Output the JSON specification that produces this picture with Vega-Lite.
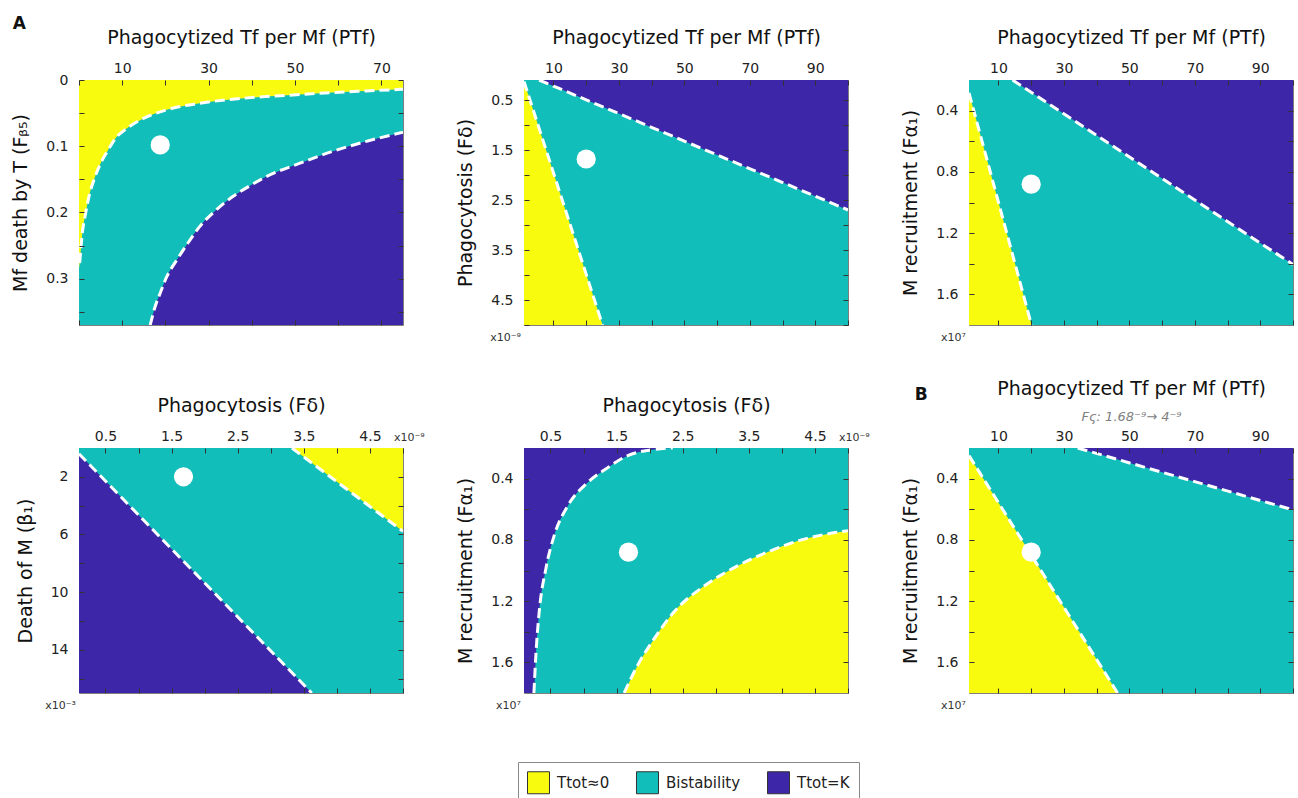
{
  "$schema": "https://vega.github.io/schema/vega-lite/v6.json",
  "background": "white",
  "padding": {"left": 11, "right": 0, "top": 14, "bottom": 0},
  "columns": 3,
  "spacing": {"row": 123, "column": 121},
  "bounds": "flush",
  "resolve": {"scale": {"x": "independent", "y": "independent", "color": "shared"}},
  "config": {
    "font": "DejaVu Sans",
    "view": {"stroke": "#7f7f7f", "strokeWidth": 1},
    "axis": {"labelFont": "DejaVu Sans", "titleFont": "DejaVu Sans", "labelFontSize": 14, "titleFontSize": 19, "titleFontWeight": "normal", "labelColor": "#222222", "titleColor": "#111111", "domain": false, "grid": false, "tickColor": "#333333", "tickSize": -5, "tickWidth": 1, "labelFlush": false, "labelOverlap": false, "zindex": 1},
    "axisTop": {"labelPadding": 10, "titlePadding": 14},
    "axisLeft": {"labelPadding": 16, "titlePadding": 15},
    "title": {"font": "DejaVu Sans"}
  },
  "concat": [
    {
      "width": 324, "height": 245,
      "title": {"text": "A", "anchor": "start", "frame": "bounds", "fontSize": 17, "fontWeight": "bold", "color": "#111111", "dx": 1, "dy": 9},
      "layer": [
        {"data": {"values": [{"region": "Bistability"}]}, "mark": {"type": "rect"},
         "encoding": {"x": {"datum": 0, "type": "quantitative", "scale": {"domain": [0, 75], "nice": false, "zero": false}, "axis": null}, "x2": {"datum": 75}, "y": {"datum": 0, "type": "quantitative", "scale": {"domain": [0, 0.37], "nice": false, "zero": false, "reverse": true}, "axis": null}, "y2": {"datum": 0.37},
          "color": {"field": "region", "type": "nominal", "scale": {"domain": ["Ttot≈0", "Bistability", "Ttot=K"], "range": ["#F9FB0E", "#12BEB9", "#3E26A8"]}, "legend": {"title": null, "orient": "none", "legendX": 439, "legendY": 682, "direction": "horizontal", "symbolType": "square", "symbolSize": 484, "symbolStrokeColor": "#333333", "symbolStrokeWidth": 1, "symbolOpacity": 1, "labelFontSize": 15, "labelFont": "DejaVu Sans", "labelColor": "#222222", "strokeColor": "#888888", "fillColor": "white", "padding": 9, "columnPadding": 24, "labelOffset": 7}}}},
        {"data": {"values": [
          {"region": "Ttot≈0", "x": 0, "y": 0.285}, {"region": "Ttot≈0", "x": 0.16, "y": 0.2765}, {"region": "Ttot≈0", "x": 0.77, "y": 0.231}, {"region": "Ttot≈0", "x": 1.54, "y": 0.201}, {"region": "Ttot≈0", "x": 2.3, "y": 0.176}, {"region": "Ttot≈0", "x": 3.45, "y": 0.151}, {"region": "Ttot≈0", "x": 4.99, "y": 0.126}, {"region": "Ttot≈0", "x": 6.53, "y": 0.108}, {"region": "Ttot≈0", "x": 8.44, "y": 0.088}, {"region": "Ttot≈0", "x": 11.1, "y": 0.073}, {"region": "Ttot≈0", "x": 14.9, "y": 0.058}, {"region": "Ttot≈0", "x": 20.3, "y": 0.045}, {"region": "Ttot≈0", "x": 28, "y": 0.035}, {"region": "Ttot≈0", "x": 35.6, "y": 0.029}, {"region": "Ttot≈0", "x": 43.3, "y": 0.025}, {"region": "Ttot≈0", "x": 51, "y": 0.022}, {"region": "Ttot≈0", "x": 58.6, "y": 0.019}, {"region": "Ttot≈0", "x": 66.3, "y": 0.0166}, {"region": "Ttot≈0", "x": 75, "y": 0.014}]},
         "mark": {"type": "area", "interpolate": "monotone", "clip": true, "opacity": 1},
         "encoding": {"x": {"field": "x", "type": "quantitative", "scale": {"domain": [0, 75], "nice": false, "zero": false}, "axis": {"orient": "top", "zindex": 1, "title": "Phagocytized Tf per Mf (PTf)", "values": [0, 10, 20, 30, 40, 50, 60, 70], "labelExpr": "datum.value % 20 == 10 ? datum.label : ''", "format": "~r"}},
          "y": {"field": "y", "type": "quantitative", "scale": {"domain": [0, 0.37], "nice": false, "zero": false, "reverse": true}, "axis": {"orient": "left", "zindex": 1, "title": "Mf death by T (Fᵦ₅)", "values": [0, 0.05, 0.1, 0.15, 0.2, 0.25, 0.3, 0.35], "labelExpr": "round(datum.value*100) % 10 == 0 ? datum.label : ''", "format": "~r"}},
          "y2": {"datum": 0},
          "color": {"field": "region", "type": "nominal", "scale": {"domain": ["Ttot≈0", "Bistability", "Ttot=K"], "range": ["#F9FB0E", "#12BEB9", "#3E26A8"]}, "legend": {"title": null, "orient": "none", "legendX": 439, "legendY": 682, "direction": "horizontal", "symbolType": "square", "symbolSize": 484, "symbolStrokeColor": "#333333", "symbolStrokeWidth": 1, "symbolOpacity": 1, "labelFontSize": 15, "labelFont": "DejaVu Sans", "labelColor": "#222222", "strokeColor": "#888888", "fillColor": "white", "padding": 9, "columnPadding": 24, "labelOffset": 7}}}},
        {"data": {"values": [
          {"region": "Ttot=K", "x": 16.48, "y": 0.37}, {"region": "Ttot=K", "x": 17.63, "y": 0.342}, {"region": "Ttot=K", "x": 18.78, "y": 0.322}, {"region": "Ttot=K", "x": 20.32, "y": 0.297}, {"region": "Ttot=K", "x": 22.62, "y": 0.272}, {"region": "Ttot=K", "x": 24.92, "y": 0.249}, {"region": "Ttot=K", "x": 27.98, "y": 0.221}, {"region": "Ttot=K", "x": 31.8, "y": 0.196}, {"region": "Ttot=K", "x": 35.6, "y": 0.176}, {"region": "Ttot=K", "x": 39.5, "y": 0.16}, {"region": "Ttot=K", "x": 43.3, "y": 0.146}, {"region": "Ttot=K", "x": 51, "y": 0.126}, {"region": "Ttot=K", "x": 58.6, "y": 0.108}, {"region": "Ttot=K", "x": 66.3, "y": 0.093}, {"region": "Ttot=K", "x": 75, "y": 0.079}]},
         "mark": {"type": "area", "interpolate": "monotone", "clip": true, "opacity": 1},
         "encoding": {"x": {"field": "x", "type": "quantitative", "scale": {"domain": [0, 75], "nice": false, "zero": false}, "axis": {"orient": "bottom", "zindex": 1, "title": null, "labels": false, "values": [0, 10, 20, 30, 40, 50, 60, 70]}},
          "y": {"field": "y", "type": "quantitative", "scale": {"domain": [0, 0.37], "nice": false, "zero": false, "reverse": true}, "axis": {"orient": "right", "zindex": 1, "title": null, "labels": false, "values": [0, 0.05, 0.1, 0.15, 0.2, 0.25, 0.3, 0.35]}},
          "y2": {"datum": 0.37},
          "color": {"field": "region", "type": "nominal", "scale": {"domain": ["Ttot≈0", "Bistability", "Ttot=K"], "range": ["#F9FB0E", "#12BEB9", "#3E26A8"]}, "legend": {"title": null, "orient": "none", "legendX": 439, "legendY": 682, "direction": "horizontal", "symbolType": "square", "symbolSize": 484, "symbolStrokeColor": "#333333", "symbolStrokeWidth": 1, "symbolOpacity": 1, "labelFontSize": 15, "labelFont": "DejaVu Sans", "labelColor": "#222222", "strokeColor": "#888888", "fillColor": "white", "padding": 9, "columnPadding": 24, "labelOffset": 7}}}},
        {"data": {"values": [
          {"b": "low", "x": 0.16, "y": 0.2765}, {"b": "low", "x": 0.77, "y": 0.231}, {"b": "low", "x": 1.54, "y": 0.201}, {"b": "low", "x": 2.3, "y": 0.176}, {"b": "low", "x": 3.45, "y": 0.151}, {"b": "low", "x": 4.99, "y": 0.126}, {"b": "low", "x": 6.53, "y": 0.108}, {"b": "low", "x": 8.44, "y": 0.088}, {"b": "low", "x": 11.1, "y": 0.073}, {"b": "low", "x": 14.9, "y": 0.058}, {"b": "low", "x": 20.3, "y": 0.045}, {"b": "low", "x": 28, "y": 0.035}, {"b": "low", "x": 35.6, "y": 0.029}, {"b": "low", "x": 43.3, "y": 0.025}, {"b": "low", "x": 51, "y": 0.022}, {"b": "low", "x": 58.6, "y": 0.019}, {"b": "low", "x": 66.3, "y": 0.0166}, {"b": "low", "x": 75, "y": 0.014},
          {"b": "high", "x": 16.48, "y": 0.37}, {"b": "high", "x": 17.63, "y": 0.342}, {"b": "high", "x": 18.78, "y": 0.322}, {"b": "high", "x": 20.32, "y": 0.297}, {"b": "high", "x": 22.62, "y": 0.272}, {"b": "high", "x": 24.92, "y": 0.249}, {"b": "high", "x": 27.98, "y": 0.221}, {"b": "high", "x": 31.8, "y": 0.196}, {"b": "high", "x": 35.6, "y": 0.176}, {"b": "high", "x": 39.5, "y": 0.16}, {"b": "high", "x": 43.3, "y": 0.146}, {"b": "high", "x": 51, "y": 0.126}, {"b": "high", "x": 58.6, "y": 0.108}, {"b": "high", "x": 66.3, "y": 0.093}, {"b": "high", "x": 75, "y": 0.079}]},
         "mark": {"type": "line", "color": "white", "strokeWidth": 3, "strokeDash": [10, 5], "interpolate": "monotone", "clip": true},
         "encoding": {"x": {"field": "x", "type": "quantitative", "axis": null}, "y": {"field": "y", "type": "quantitative", "axis": null}, "detail": {"field": "b"}}},
        {"data": {"values": [{"x": 18.8, "y": 0.098}]},
         "mark": {"type": "circle", "color": "white", "size": 370, "opacity": 1},
         "encoding": {"x": {"field": "x", "type": "quantitative", "axis": null}, "y": {"field": "y", "type": "quantitative", "axis": null}}}
      ],
      "resolve": {"axis": {"x": "independent", "y": "independent"}}
    },
    {
      "width": 324, "height": 245,
      "layer": [
        {"data": {"values": [{"region": "Bistability"}]}, "mark": {"type": "rect"},
         "encoding": {"x": {"datum": 1, "type": "quantitative", "scale": {"domain": [1, 100], "nice": false, "zero": false}, "axis": null}, "x2": {"datum": 100}, "y": {"datum": 0.1, "type": "quantitative", "scale": {"domain": [0.1, 5], "nice": false, "zero": false, "reverse": true}, "axis": null}, "y2": {"datum": 5},
          "color": {"field": "region", "type": "nominal", "scale": {"domain": ["Ttot≈0", "Bistability", "Ttot=K"], "range": ["#F9FB0E", "#12BEB9", "#3E26A8"]}, "legend": {"title": null, "orient": "none", "legendX": 439, "legendY": 682, "direction": "horizontal", "symbolType": "square", "symbolSize": 484, "symbolStrokeColor": "#333333", "symbolStrokeWidth": 1, "symbolOpacity": 1, "labelFontSize": 15, "labelFont": "DejaVu Sans", "labelColor": "#222222", "strokeColor": "#888888", "fillColor": "white", "padding": 9, "columnPadding": 24, "labelOffset": 7}}}},
        {"data": {"values": [{"region": "Ttot≈0", "x": 1, "y": 0.13}, {"region": "Ttot≈0", "x": 25, "y": 5}]},
         "mark": {"type": "area", "clip": true, "opacity": 1},
         "encoding": {"x": {"field": "x", "type": "quantitative", "scale": {"domain": [1, 100], "nice": false, "zero": false}, "axis": {"orient": "top", "zindex": 1, "title": "Phagocytized Tf per Mf (PTf)", "values": [10, 20, 30, 40, 50, 60, 70, 80, 90, 100], "labelExpr": "datum.value % 20 == 10 ? datum.label : ''", "format": "~r"}},
          "y": {"field": "y", "type": "quantitative", "scale": {"domain": [0.1, 5], "nice": false, "zero": false, "reverse": true}, "axis": {"orient": "left", "zindex": 1, "title": "Phagocytosis (Fδ)", "values": [0.5, 1, 1.5, 2, 2.5, 3, 3.5, 4, 4.5, 5], "labelExpr": "round(datum.value*10) % 10 == 5 ? datum.label : ''", "format": "~r"}},
          "y2": {"datum": 5},
          "color": {"field": "region", "type": "nominal", "scale": {"domain": ["Ttot≈0", "Bistability", "Ttot=K"], "range": ["#F9FB0E", "#12BEB9", "#3E26A8"]}, "legend": {"title": null, "orient": "none", "legendX": 439, "legendY": 682, "direction": "horizontal", "symbolType": "square", "symbolSize": 484, "symbolStrokeColor": "#333333", "symbolStrokeWidth": 1, "symbolOpacity": 1, "labelFontSize": 15, "labelFont": "DejaVu Sans", "labelColor": "#222222", "strokeColor": "#888888", "fillColor": "white", "padding": 9, "columnPadding": 24, "labelOffset": 7}}}},
        {"data": {"values": [{"region": "Ttot=K", "x": 5.6, "y": 0.1}, {"region": "Ttot=K", "x": 100, "y": 2.7}]},
         "mark": {"type": "area", "clip": true, "opacity": 1},
         "encoding": {"x": {"field": "x", "type": "quantitative", "scale": {"domain": [1, 100], "nice": false, "zero": false}, "axis": {"orient": "bottom", "zindex": 1, "title": null, "labels": false, "values": [10, 20, 30, 40, 50, 60, 70, 80, 90, 100]}},
          "y": {"field": "y", "type": "quantitative", "scale": {"domain": [0.1, 5], "nice": false, "zero": false, "reverse": true}, "axis": {"orient": "right", "zindex": 1, "title": null, "labels": false, "values": [0.5, 1, 1.5, 2, 2.5, 3, 3.5, 4, 4.5, 5]}},
          "y2": {"datum": 0.1},
          "color": {"field": "region", "type": "nominal", "scale": {"domain": ["Ttot≈0", "Bistability", "Ttot=K"], "range": ["#F9FB0E", "#12BEB9", "#3E26A8"]}, "legend": {"title": null, "orient": "none", "legendX": 439, "legendY": 682, "direction": "horizontal", "symbolType": "square", "symbolSize": 484, "symbolStrokeColor": "#333333", "symbolStrokeWidth": 1, "symbolOpacity": 1, "labelFontSize": 15, "labelFont": "DejaVu Sans", "labelColor": "#222222", "strokeColor": "#888888", "fillColor": "white", "padding": 9, "columnPadding": 24, "labelOffset": 7}}}},
        {"data": {"values": [{"b": "low", "x": 1, "y": 0.13}, {"b": "low", "x": 25, "y": 5}, {"b": "high", "x": 5.6, "y": 0.1}, {"b": "high", "x": 100, "y": 2.7}]},
         "mark": {"type": "line", "color": "white", "strokeWidth": 3, "strokeDash": [10, 5], "clip": true},
         "encoding": {"x": {"field": "x", "type": "quantitative", "axis": null}, "y": {"field": "y", "type": "quantitative", "axis": null}, "detail": {"field": "b"}}},
        {"data": {"values": [{"x": 20, "y": 1.68}]},
         "mark": {"type": "circle", "color": "white", "size": 370, "opacity": 1},
         "encoding": {"x": {"field": "x", "type": "quantitative", "axis": null}, "y": {"field": "y", "type": "quantitative", "axis": null}}},
        {"data": {"values": [{"label": "x10⁻⁹"}]},
         "mark": {"type": "text", "align": "right", "baseline": "top", "dx": -3, "dy": 7, "fontSize": 11, "color": "#333333"},
         "encoding": {"x": {"datum": 1, "type": "quantitative", "axis": null}, "y": {"datum": 5, "type": "quantitative", "axis": null}, "text": {"field": "label"}}}
      ],
      "resolve": {"axis": {"x": "independent", "y": "independent"}}
    },
    {
      "width": 324, "height": 245,
      "layer": [
        {"data": {"values": [{"region": "Bistability"}]}, "mark": {"type": "rect"},
         "encoding": {"x": {"datum": 1, "type": "quantitative", "scale": {"domain": [1, 100], "nice": false, "zero": false}, "axis": null}, "x2": {"datum": 100}, "y": {"datum": 0.2, "type": "quantitative", "scale": {"domain": [0.2, 1.8], "nice": false, "zero": false, "reverse": true}, "axis": null}, "y2": {"datum": 1.8},
          "color": {"field": "region", "type": "nominal", "scale": {"domain": ["Ttot≈0", "Bistability", "Ttot=K"], "range": ["#F9FB0E", "#12BEB9", "#3E26A8"]}, "legend": {"title": null, "orient": "none", "legendX": 439, "legendY": 682, "direction": "horizontal", "symbolType": "square", "symbolSize": 484, "symbolStrokeColor": "#333333", "symbolStrokeWidth": 1, "symbolOpacity": 1, "labelFontSize": 15, "labelFont": "DejaVu Sans", "labelColor": "#222222", "strokeColor": "#888888", "fillColor": "white", "padding": 9, "columnPadding": 24, "labelOffset": 7}}}},
        {"data": {"values": [{"region": "Ttot≈0", "x": 1, "y": 0.284}, {"region": "Ttot≈0", "x": 20.1, "y": 1.8}]},
         "mark": {"type": "area", "clip": true, "opacity": 1},
         "encoding": {"x": {"field": "x", "type": "quantitative", "scale": {"domain": [1, 100], "nice": false, "zero": false}, "axis": {"orient": "top", "zindex": 1, "title": "Phagocytized Tf per Mf (PTf)", "values": [10, 20, 30, 40, 50, 60, 70, 80, 90, 100], "labelExpr": "datum.value % 20 == 10 ? datum.label : ''", "format": "~r"}},
          "y": {"field": "y", "type": "quantitative", "scale": {"domain": [0.2, 1.8], "nice": false, "zero": false, "reverse": true}, "axis": {"orient": "left", "zindex": 1, "title": "M recruitment (Fα₁)", "values": [0.4, 0.6, 0.8, 1.0, 1.2, 1.4, 1.6], "labelExpr": "round(datum.value*10) % 4 == 0 ? datum.label : ''", "format": "~r"}},
          "y2": {"datum": 1.8},
          "color": {"field": "region", "type": "nominal", "scale": {"domain": ["Ttot≈0", "Bistability", "Ttot=K"], "range": ["#F9FB0E", "#12BEB9", "#3E26A8"]}, "legend": {"title": null, "orient": "none", "legendX": 439, "legendY": 682, "direction": "horizontal", "symbolType": "square", "symbolSize": 484, "symbolStrokeColor": "#333333", "symbolStrokeWidth": 1, "symbolOpacity": 1, "labelFontSize": 15, "labelFont": "DejaVu Sans", "labelColor": "#222222", "strokeColor": "#888888", "fillColor": "white", "padding": 9, "columnPadding": 24, "labelOffset": 7}}}},
        {"data": {"values": [{"region": "Ttot=K", "x": 14.3, "y": 0.2}, {"region": "Ttot=K", "x": 100, "y": 1.405}]},
         "mark": {"type": "area", "clip": true, "opacity": 1},
         "encoding": {"x": {"field": "x", "type": "quantitative", "scale": {"domain": [1, 100], "nice": false, "zero": false}, "axis": {"orient": "bottom", "zindex": 1, "title": null, "labels": false, "values": [10, 20, 30, 40, 50, 60, 70, 80, 90, 100]}},
          "y": {"field": "y", "type": "quantitative", "scale": {"domain": [0.2, 1.8], "nice": false, "zero": false, "reverse": true}, "axis": {"orient": "right", "zindex": 1, "title": null, "labels": false, "values": [0.4, 0.6, 0.8, 1.0, 1.2, 1.4, 1.6]}},
          "y2": {"datum": 0.2},
          "color": {"field": "region", "type": "nominal", "scale": {"domain": ["Ttot≈0", "Bistability", "Ttot=K"], "range": ["#F9FB0E", "#12BEB9", "#3E26A8"]}, "legend": {"title": null, "orient": "none", "legendX": 439, "legendY": 682, "direction": "horizontal", "symbolType": "square", "symbolSize": 484, "symbolStrokeColor": "#333333", "symbolStrokeWidth": 1, "symbolOpacity": 1, "labelFontSize": 15, "labelFont": "DejaVu Sans", "labelColor": "#222222", "strokeColor": "#888888", "fillColor": "white", "padding": 9, "columnPadding": 24, "labelOffset": 7}}}},
        {"data": {"values": [{"b": "low", "x": 1, "y": 0.284}, {"b": "low", "x": 20.1, "y": 1.8}, {"b": "high", "x": 14.3, "y": 0.2}, {"b": "high", "x": 100, "y": 1.405}]},
         "mark": {"type": "line", "color": "white", "strokeWidth": 3, "strokeDash": [10, 5], "clip": true},
         "encoding": {"x": {"field": "x", "type": "quantitative", "axis": null}, "y": {"field": "y", "type": "quantitative", "axis": null}, "detail": {"field": "b"}}},
        {"data": {"values": [{"x": 20, "y": 0.88}]},
         "mark": {"type": "circle", "color": "white", "size": 370, "opacity": 1},
         "encoding": {"x": {"field": "x", "type": "quantitative", "axis": null}, "y": {"field": "y", "type": "quantitative", "axis": null}}},
        {"data": {"values": [{"label": "x10⁷"}]},
         "mark": {"type": "text", "align": "right", "baseline": "top", "dx": -3, "dy": 7, "fontSize": 11, "color": "#333333"},
         "encoding": {"x": {"datum": 1, "type": "quantitative", "axis": null}, "y": {"datum": 1.8, "type": "quantitative", "axis": null}, "text": {"field": "label"}}}
      ],
      "resolve": {"axis": {"x": "independent", "y": "independent"}}
    },
    {
      "width": 324, "height": 245,
      "layer": [
        {"data": {"values": [{"region": "Bistability"}]}, "mark": {"type": "rect"},
         "encoding": {"x": {"datum": 0.1, "type": "quantitative", "scale": {"domain": [0.1, 5], "nice": false, "zero": false}, "axis": null}, "x2": {"datum": 5}, "y": {"datum": 0, "type": "quantitative", "scale": {"domain": [0, 17], "nice": false, "zero": false, "reverse": true}, "axis": null}, "y2": {"datum": 17},
          "color": {"field": "region", "type": "nominal", "scale": {"domain": ["Ttot≈0", "Bistability", "Ttot=K"], "range": ["#F9FB0E", "#12BEB9", "#3E26A8"]}, "legend": {"title": null, "orient": "none", "legendX": 439, "legendY": 682, "direction": "horizontal", "symbolType": "square", "symbolSize": 484, "symbolStrokeColor": "#333333", "symbolStrokeWidth": 1, "symbolOpacity": 1, "labelFontSize": 15, "labelFont": "DejaVu Sans", "labelColor": "#222222", "strokeColor": "#888888", "fillColor": "white", "padding": 9, "columnPadding": 24, "labelOffset": 7}}}},
        {"data": {"values": [{"region": "Ttot≈0", "x": 3.32, "y": 0}, {"region": "Ttot≈0", "x": 5, "y": 5.78}]},
         "mark": {"type": "area", "clip": true, "opacity": 1},
         "encoding": {"x": {"field": "x", "type": "quantitative", "scale": {"domain": [0.1, 5], "nice": false, "zero": false}, "axis": {"orient": "top", "zindex": 1, "title": "Phagocytosis (Fδ)", "values": [0.5, 1, 1.5, 2, 2.5, 3, 3.5, 4, 4.5, 5], "labelExpr": "round(datum.value*10) % 10 == 5 ? datum.label : ''", "format": "~r"}},
          "y": {"field": "y", "type": "quantitative", "scale": {"domain": [0, 17], "nice": false, "zero": false, "reverse": true}, "axis": {"orient": "left", "zindex": 1, "title": "Death of M (β₁)", "values": [2, 4, 6, 8, 10, 12, 14, 16], "labelExpr": "datum.value % 4 == 2 ? datum.label : ''", "format": "~r"}},
          "y2": {"datum": 0},
          "color": {"field": "region", "type": "nominal", "scale": {"domain": ["Ttot≈0", "Bistability", "Ttot=K"], "range": ["#F9FB0E", "#12BEB9", "#3E26A8"]}, "legend": {"title": null, "orient": "none", "legendX": 439, "legendY": 682, "direction": "horizontal", "symbolType": "square", "symbolSize": 484, "symbolStrokeColor": "#333333", "symbolStrokeWidth": 1, "symbolOpacity": 1, "labelFontSize": 15, "labelFont": "DejaVu Sans", "labelColor": "#222222", "strokeColor": "#888888", "fillColor": "white", "padding": 9, "columnPadding": 24, "labelOffset": 7}}}},
        {"data": {"values": [{"region": "Ttot=K", "x": 0.1, "y": 0.4}, {"region": "Ttot=K", "x": 3.62, "y": 17}]},
         "mark": {"type": "area", "clip": true, "opacity": 1},
         "encoding": {"x": {"field": "x", "type": "quantitative", "scale": {"domain": [0.1, 5], "nice": false, "zero": false}, "axis": {"orient": "bottom", "zindex": 1, "title": null, "labels": false, "values": [0.5, 1, 1.5, 2, 2.5, 3, 3.5, 4, 4.5, 5]}},
          "y": {"field": "y", "type": "quantitative", "scale": {"domain": [0, 17], "nice": false, "zero": false, "reverse": true}, "axis": {"orient": "right", "zindex": 1, "title": null, "labels": false, "values": [2, 4, 6, 8, 10, 12, 14, 16]}},
          "y2": {"datum": 17},
          "color": {"field": "region", "type": "nominal", "scale": {"domain": ["Ttot≈0", "Bistability", "Ttot=K"], "range": ["#F9FB0E", "#12BEB9", "#3E26A8"]}, "legend": {"title": null, "orient": "none", "legendX": 439, "legendY": 682, "direction": "horizontal", "symbolType": "square", "symbolSize": 484, "symbolStrokeColor": "#333333", "symbolStrokeWidth": 1, "symbolOpacity": 1, "labelFontSize": 15, "labelFont": "DejaVu Sans", "labelColor": "#222222", "strokeColor": "#888888", "fillColor": "white", "padding": 9, "columnPadding": 24, "labelOffset": 7}}}},
        {"data": {"values": [{"b": "low", "x": 0.1, "y": 0.4}, {"b": "low", "x": 3.62, "y": 17}, {"b": "high", "x": 3.32, "y": 0}, {"b": "high", "x": 5, "y": 5.78}]},
         "mark": {"type": "line", "color": "white", "strokeWidth": 3, "strokeDash": [10, 5], "clip": true},
         "encoding": {"x": {"field": "x", "type": "quantitative", "axis": null}, "y": {"field": "y", "type": "quantitative", "axis": null}, "detail": {"field": "b"}}},
        {"data": {"values": [{"x": 1.68, "y": 2}]},
         "mark": {"type": "circle", "color": "white", "size": 370, "opacity": 1},
         "encoding": {"x": {"field": "x", "type": "quantitative", "axis": null}, "y": {"field": "y", "type": "quantitative", "axis": null}}},
        {"data": {"values": [{"label": "x10⁻³"}]},
         "mark": {"type": "text", "align": "right", "baseline": "top", "dx": -3, "dy": 7, "fontSize": 11, "color": "#333333"},
         "encoding": {"x": {"datum": 0.1, "type": "quantitative", "axis": null}, "y": {"datum": 17, "type": "quantitative", "axis": null}, "text": {"field": "label"}}},
        {"data": {"values": [{"label": "x10⁻⁹"}]},
         "mark": {"type": "text", "align": "left", "baseline": "bottom", "dx": -9, "dy": -5, "fontSize": 11, "color": "#333333"},
         "encoding": {"x": {"datum": 5, "type": "quantitative", "axis": null}, "y": {"datum": 0, "type": "quantitative", "axis": null}, "text": {"field": "label"}}}
      ],
      "resolve": {"axis": {"x": "independent", "y": "independent"}}
    },
    {
      "width": 324, "height": 245,
      "layer": [
        {"data": {"values": [{"region": "Bistability"}]}, "mark": {"type": "rect"},
         "encoding": {"x": {"datum": 0.1, "type": "quantitative", "scale": {"domain": [0.1, 5], "nice": false, "zero": false}, "axis": null}, "x2": {"datum": 5}, "y": {"datum": 0.2, "type": "quantitative", "scale": {"domain": [0.2, 1.8], "nice": false, "zero": false, "reverse": true}, "axis": null}, "y2": {"datum": 1.8},
          "color": {"field": "region", "type": "nominal", "scale": {"domain": ["Ttot≈0", "Bistability", "Ttot=K"], "range": ["#F9FB0E", "#12BEB9", "#3E26A8"]}, "legend": {"title": null, "orient": "none", "legendX": 439, "legendY": 682, "direction": "horizontal", "symbolType": "square", "symbolSize": 484, "symbolStrokeColor": "#333333", "symbolStrokeWidth": 1, "symbolOpacity": 1, "labelFontSize": 15, "labelFont": "DejaVu Sans", "labelColor": "#222222", "strokeColor": "#888888", "fillColor": "white", "padding": 9, "columnPadding": 24, "labelOffset": 7}}}},
        {"data": {"values": [{"region": "Ttot≈0", "x": 1.615, "y": 1.8}, {"region": "Ttot≈0", "x": 1.82, "y": 1.618}, {"region": "Ttot≈0", "x": 2.07, "y": 1.445}, {"region": "Ttot≈0", "x": 2.37, "y": 1.27}, {"region": "Ttot≈0", "x": 2.83, "y": 1.1}, {"region": "Ttot≈0", "x": 3.33, "y": 0.97}, {"region": "Ttot≈0", "x": 3.84, "y": 0.87}, {"region": "Ttot≈0", "x": 4.34, "y": 0.795}, {"region": "Ttot≈0", "x": 5, "y": 0.74}]},
         "mark": {"type": "area", "interpolate": "monotone", "clip": true, "opacity": 1},
         "encoding": {"x": {"field": "x", "type": "quantitative", "scale": {"domain": [0.1, 5], "nice": false, "zero": false}, "axis": {"orient": "top", "zindex": 1, "title": "Phagocytosis (Fδ)", "values": [0.5, 1, 1.5, 2, 2.5, 3, 3.5, 4, 4.5, 5], "labelExpr": "round(datum.value*10) % 10 == 5 ? datum.label : ''", "format": "~r"}},
          "y": {"field": "y", "type": "quantitative", "scale": {"domain": [0.2, 1.8], "nice": false, "zero": false, "reverse": true}, "axis": {"orient": "left", "zindex": 1, "title": "M recruitment (Fα₁)", "values": [0.4, 0.6, 0.8, 1.0, 1.2, 1.4, 1.6], "labelExpr": "round(datum.value*10) % 4 == 0 ? datum.label : ''", "format": "~r"}},
          "y2": {"datum": 1.8},
          "color": {"field": "region", "type": "nominal", "scale": {"domain": ["Ttot≈0", "Bistability", "Ttot=K"], "range": ["#F9FB0E", "#12BEB9", "#3E26A8"]}, "legend": {"title": null, "orient": "none", "legendX": 439, "legendY": 682, "direction": "horizontal", "symbolType": "square", "symbolSize": 484, "symbolStrokeColor": "#333333", "symbolStrokeWidth": 1, "symbolOpacity": 1, "labelFontSize": 15, "labelFont": "DejaVu Sans", "labelColor": "#222222", "strokeColor": "#888888", "fillColor": "white", "padding": 9, "columnPadding": 24, "labelOffset": 7}}}},
        {"data": {"values": [{"region": "Ttot=K", "x": 0.1, "y": 1.8}, {"region": "Ttot=K", "x": 0.25, "y": 1.8}, {"region": "Ttot=K", "x": 0.28, "y": 1.55}, {"region": "Ttot=K", "x": 0.33, "y": 1.27}, {"region": "Ttot=K", "x": 0.43, "y": 0.99}, {"region": "Ttot=K", "x": 0.555, "y": 0.774}, {"region": "Ttot=K", "x": 0.76, "y": 0.579}, {"region": "Ttot=K", "x": 1.06, "y": 0.427}, {"region": "Ttot=K", "x": 1.36, "y": 0.33}, {"region": "Ttot=K", "x": 1.67, "y": 0.25}, {"region": "Ttot=K", "x": 2.17, "y": 0.205}, {"region": "Ttot=K", "x": 2.35, "y": 0.2}]},
         "mark": {"type": "area", "interpolate": "monotone", "clip": true, "opacity": 1},
         "encoding": {"x": {"field": "x", "type": "quantitative", "scale": {"domain": [0.1, 5], "nice": false, "zero": false}, "axis": {"orient": "bottom", "zindex": 1, "title": null, "labels": false, "values": [0.5, 1, 1.5, 2, 2.5, 3, 3.5, 4, 4.5, 5]}},
          "y": {"field": "y", "type": "quantitative", "scale": {"domain": [0.2, 1.8], "nice": false, "zero": false, "reverse": true}, "axis": {"orient": "right", "zindex": 1, "title": null, "labels": false, "values": [0.4, 0.6, 0.8, 1.0, 1.2, 1.4, 1.6]}},
          "y2": {"datum": 0.2},
          "color": {"field": "region", "type": "nominal", "scale": {"domain": ["Ttot≈0", "Bistability", "Ttot=K"], "range": ["#F9FB0E", "#12BEB9", "#3E26A8"]}, "legend": {"title": null, "orient": "none", "legendX": 439, "legendY": 682, "direction": "horizontal", "symbolType": "square", "symbolSize": 484, "symbolStrokeColor": "#333333", "symbolStrokeWidth": 1, "symbolOpacity": 1, "labelFontSize": 15, "labelFont": "DejaVu Sans", "labelColor": "#222222", "strokeColor": "#888888", "fillColor": "white", "padding": 9, "columnPadding": 24, "labelOffset": 7}}}},
        {"data": {"values": [
          {"b": "low", "x": 1.615, "y": 1.8}, {"b": "low", "x": 1.82, "y": 1.618}, {"b": "low", "x": 2.07, "y": 1.445}, {"b": "low", "x": 2.37, "y": 1.27}, {"b": "low", "x": 2.83, "y": 1.1}, {"b": "low", "x": 3.33, "y": 0.97}, {"b": "low", "x": 3.84, "y": 0.87}, {"b": "low", "x": 4.34, "y": 0.795}, {"b": "low", "x": 5, "y": 0.74},
          {"b": "high", "x": 0.25, "y": 1.8}, {"b": "high", "x": 0.28, "y": 1.55}, {"b": "high", "x": 0.33, "y": 1.27}, {"b": "high", "x": 0.43, "y": 0.99}, {"b": "high", "x": 0.555, "y": 0.774}, {"b": "high", "x": 0.76, "y": 0.579}, {"b": "high", "x": 1.06, "y": 0.427}, {"b": "high", "x": 1.36, "y": 0.33}, {"b": "high", "x": 1.67, "y": 0.25}, {"b": "high", "x": 2.17, "y": 0.205}, {"b": "high", "x": 2.35, "y": 0.2}]},
         "mark": {"type": "line", "color": "white", "strokeWidth": 3, "strokeDash": [10, 5], "interpolate": "monotone", "clip": true},
         "encoding": {"x": {"field": "x", "type": "quantitative", "axis": null}, "y": {"field": "y", "type": "quantitative", "axis": null}, "detail": {"field": "b"}}},
        {"data": {"values": [{"x": 1.68, "y": 0.88}]},
         "mark": {"type": "circle", "color": "white", "size": 370, "opacity": 1},
         "encoding": {"x": {"field": "x", "type": "quantitative", "axis": null}, "y": {"field": "y", "type": "quantitative", "axis": null}}},
        {"data": {"values": [{"label": "x10⁷"}]},
         "mark": {"type": "text", "align": "right", "baseline": "top", "dx": -3, "dy": 7, "fontSize": 11, "color": "#333333"},
         "encoding": {"x": {"datum": 0.1, "type": "quantitative", "axis": null}, "y": {"datum": 1.8, "type": "quantitative", "axis": null}, "text": {"field": "label"}}},
        {"data": {"values": [{"label": "x10⁻⁹"}]},
         "mark": {"type": "text", "align": "left", "baseline": "bottom", "dx": -9, "dy": -5, "fontSize": 11, "color": "#333333"},
         "encoding": {"x": {"datum": 5, "type": "quantitative", "axis": null}, "y": {"datum": 0.2, "type": "quantitative", "axis": null}, "text": {"field": "label"}}}
      ],
      "resolve": {"axis": {"x": "independent", "y": "independent"}}
    },
    {
      "width": 324, "height": 245,
      "title": {"text": "B", "anchor": "start", "frame": "bounds", "fontSize": 17, "fontWeight": "bold", "color": "#111111", "dx": 13, "dy": 29},
      "layer": [
        {"data": {"values": [{"region": "Bistability"}]}, "mark": {"type": "rect"},
         "encoding": {"x": {"datum": 1, "type": "quantitative", "scale": {"domain": [1, 100], "nice": false, "zero": false}, "axis": null}, "x2": {"datum": 100}, "y": {"datum": 0.2, "type": "quantitative", "scale": {"domain": [0.2, 1.8], "nice": false, "zero": false, "reverse": true}, "axis": null}, "y2": {"datum": 1.8},
          "color": {"field": "region", "type": "nominal", "scale": {"domain": ["Ttot≈0", "Bistability", "Ttot=K"], "range": ["#F9FB0E", "#12BEB9", "#3E26A8"]}, "legend": {"title": null, "orient": "none", "legendX": 439, "legendY": 682, "direction": "horizontal", "symbolType": "square", "symbolSize": 484, "symbolStrokeColor": "#333333", "symbolStrokeWidth": 1, "symbolOpacity": 1, "labelFontSize": 15, "labelFont": "DejaVu Sans", "labelColor": "#222222", "strokeColor": "#888888", "fillColor": "white", "padding": 9, "columnPadding": 24, "labelOffset": 7}}}},
        {"data": {"values": [{"region": "Ttot≈0", "x": 1, "y": 0.25}, {"region": "Ttot≈0", "x": 46.4, "y": 1.8}]},
         "mark": {"type": "area", "clip": true, "opacity": 1},
         "encoding": {"x": {"field": "x", "type": "quantitative", "scale": {"domain": [1, 100], "nice": false, "zero": false}, "axis": {"orient": "top", "zindex": 1, "title": "Fς: 1.68⁻⁹→ 4⁻⁹", "titleFontSize": 13, "titleFontStyle": "italic", "titleColor": "#808080", "titlePadding": 6, "values": [10, 20, 30, 40, 50, 60, 70, 80, 90, 100], "labelExpr": "datum.value % 20 == 10 ? datum.label : ''", "format": "~r"}},
          "y": {"field": "y", "type": "quantitative", "scale": {"domain": [0.2, 1.8], "nice": false, "zero": false, "reverse": true}, "axis": {"orient": "left", "zindex": 1, "title": "M recruitment (Fα₁)", "values": [0.4, 0.6, 0.8, 1.0, 1.2, 1.4, 1.6], "labelExpr": "round(datum.value*10) % 4 == 0 ? datum.label : ''", "format": "~r"}},
          "y2": {"datum": 1.8},
          "color": {"field": "region", "type": "nominal", "scale": {"domain": ["Ttot≈0", "Bistability", "Ttot=K"], "range": ["#F9FB0E", "#12BEB9", "#3E26A8"]}, "legend": {"title": null, "orient": "none", "legendX": 439, "legendY": 682, "direction": "horizontal", "symbolType": "square", "symbolSize": 484, "symbolStrokeColor": "#333333", "symbolStrokeWidth": 1, "symbolOpacity": 1, "labelFontSize": 15, "labelFont": "DejaVu Sans", "labelColor": "#222222", "strokeColor": "#888888", "fillColor": "white", "padding": 9, "columnPadding": 24, "labelOffset": 7}}}},
        {"data": {"values": [{"region": "Ttot=K", "x": 34.2, "y": 0.2}, {"region": "Ttot=K", "x": 100, "y": 0.604}]},
         "mark": {"type": "area", "clip": true, "opacity": 1},
         "encoding": {"x": {"field": "x", "type": "quantitative", "scale": {"domain": [1, 100], "nice": false, "zero": false}, "axis": {"orient": "bottom", "zindex": 1, "title": null, "labels": false, "values": [10, 20, 30, 40, 50, 60, 70, 80, 90, 100]}},
          "y": {"field": "y", "type": "quantitative", "scale": {"domain": [0.2, 1.8], "nice": false, "zero": false, "reverse": true}, "axis": {"orient": "right", "zindex": 1, "title": null, "labels": false, "values": [0.4, 0.6, 0.8, 1.0, 1.2, 1.4, 1.6]}},
          "y2": {"datum": 0.2},
          "color": {"field": "region", "type": "nominal", "scale": {"domain": ["Ttot≈0", "Bistability", "Ttot=K"], "range": ["#F9FB0E", "#12BEB9", "#3E26A8"]}, "legend": {"title": null, "orient": "none", "legendX": 439, "legendY": 682, "direction": "horizontal", "symbolType": "square", "symbolSize": 484, "symbolStrokeColor": "#333333", "symbolStrokeWidth": 1, "symbolOpacity": 1, "labelFontSize": 15, "labelFont": "DejaVu Sans", "labelColor": "#222222", "strokeColor": "#888888", "fillColor": "white", "padding": 9, "columnPadding": 24, "labelOffset": 7}}}},
        {"data": {"values": [{"b": "low", "x": 1, "y": 0.25}, {"b": "low", "x": 46.4, "y": 1.8}, {"b": "high", "x": 34.2, "y": 0.2}, {"b": "high", "x": 100, "y": 0.604}]},
         "mark": {"type": "line", "color": "white", "strokeWidth": 3, "strokeDash": [10, 5], "clip": true},
         "encoding": {"x": {"field": "x", "type": "quantitative", "axis": {"orient": "top", "title": "Phagocytized Tf per Mf (PTf)", "labels": false, "ticks": false, "domain": false, "titlePadding": 50}}, "y": {"field": "y", "type": "quantitative", "axis": null}, "detail": {"field": "b"}}},
        {"data": {"values": [{"x": 20, "y": 0.88}]},
         "mark": {"type": "circle", "color": "white", "size": 370, "opacity": 1},
         "encoding": {"x": {"field": "x", "type": "quantitative", "axis": null}, "y": {"field": "y", "type": "quantitative", "axis": null}}},
        {"data": {"values": [{"label": "x10⁷"}]},
         "mark": {"type": "text", "align": "right", "baseline": "top", "dx": -3, "dy": 7, "fontSize": 11, "color": "#333333"},
         "encoding": {"x": {"datum": 1, "type": "quantitative", "axis": null}, "y": {"datum": 1.8, "type": "quantitative", "axis": null}, "text": {"field": "label"}}}
      ],
      "resolve": {"axis": {"x": "independent", "y": "independent"}}
    }
  ]
}
